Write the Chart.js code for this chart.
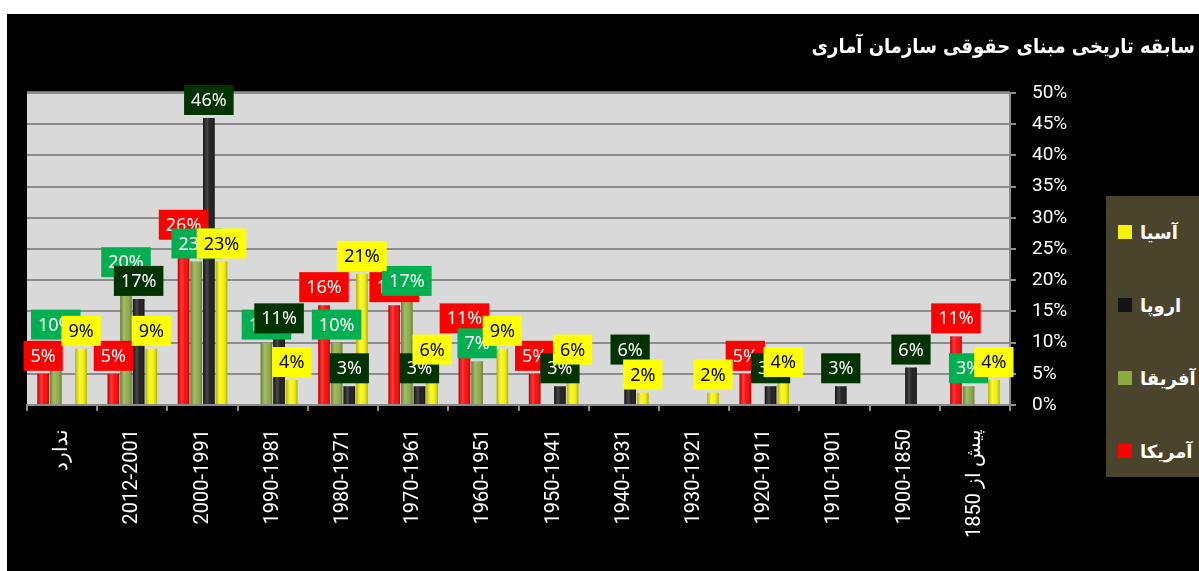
<!DOCTYPE html>
<html lang="fa">
<head>
  <meta charset="UTF-8" />
  <title>سابقه تاریخی مبنای حقوقی سازمان آماری</title>
  <style>
    body {
      margin: 0;
      background: #ffffff;
      font-family: 'DejaVu Sans', sans-serif;
    }

    #wrap {
      position: absolute;
      left: 7px;
      top: 14px;
      width: 1192px;
      height: 557px;
      background: #000000;
    }

    #legend {
      position: absolute;
      left: 1099px;
      top: 182px;
      width: 93px;
      height: 281px;
      background: #4a442c;
      box-sizing: border-box;
      padding-top: 24px;
    }

    .item {
      display: flex;
      align-items: center;
      height: 24px;
      margin-bottom: 49px;
      padding-left: 12px;
      color: #ffffff;
      font-weight: bold;
      font-size: 18px;
    }

    .item span.box {
      width: 14px;
      height: 14px;
      margin-right: 8px;
    }
  </style>
</head>
<body>
  <div id="wrap">
    <canvas id="grafico"></canvas>
    <div id="legend"></div>
  </div>

  <script src="https://cdn.jsdelivr.net/npm/chart.js"></script>
  <script>
    const categorias = ['ندارد', '2012-2001', '2000-1991', '1990-1981', '1980-1971', '1970-1961',
      '1960-1951', '1950-1941', '1940-1931', '1930-1921', '1920-1911', '1910-1901', '1900-1850', 'پیش از 1850'];

    // percent of countries per period (null = no bar)
    const amrika  = [5, 5, 26, null, 16, 16, 11, 5, null, null, 5, null, null, 11];
    const afriqa  = [10, 20, 23, 10, 10, 17, 7, null, null, null, null, null, null, 3];
    const oropa   = [null, 17, 46, 11, 3, 3, null, 3, 6, null, 3, 3, 6, null];
    const asia    = [9, 9, 23, 4, 21, 6, 9, 6, 2, 2, 4, null, null, 4];

    const yTicks = [0, 5, 10, 15, 20, 25, 30, 35, 40, 45, 50];

    const series = [
      { label: 'آمریکا', data: amrika, color: '#ff0000', labelBg: '#ff0000', labelFg: '#ffffff' },
      { label: 'آفریقا', data: afriqa, color: '#8caa42', labelBg: '#00b050', labelFg: '#ffffff' },
      { label: 'اروپا',  data: oropa,  color: '#141414', labelBg: '#003300', labelFg: '#ffffff' },
      { label: 'آسیا',   data: asia,   color: '#f4f400', labelBg: '#ffff00', labelFg: '#000000' }
    ];

    // legend (top to bottom is reversed series order)
    const legend = document.getElementById('legend');
    series.slice().reverse().forEach(s => {
      const div = document.createElement('div');
      div.className = 'item';
      div.innerHTML = `<span class="box" style="background:${s.color}"></span><span>${s.label}</span>`;
      legend.appendChild(div);
    });

    const fundoPlot = {
      id: 'fundoPlot',
      beforeDraw(chart) {
        const { ctx, chartArea: a } = chart;
        ctx.save();
        ctx.fillStyle = '#d9d9d9';
        ctx.fillRect(a.left, a.top, a.right - a.left, a.bottom - a.top);
        ctx.fillStyle = '#6e6e6e';
        ctx.fillRect(a.left, a.top - 2, a.right - a.left, 3);
        ctx.restore();
      }
    };

    // cylinder shading on the bars
    const sombra = {
      id: 'sombra',
      afterDatasetsDraw(chart) {
        const ctx = chart.ctx;
        ctx.save();
        chart.data.datasets.forEach((ds, i) => {
          chart.getDatasetMeta(i).data.forEach((bar, j) => {
            if (ds.data[j] == null) return;
            const { x, y, base, width } = bar.getProps(['x', 'y', 'base', 'width'], true);
            const l = x - width / 2;
            const g = ctx.createLinearGradient(l, 0, l + width, 0);
            g.addColorStop(0, 'rgba(0,0,0,0.28)');
            g.addColorStop(0.35, 'rgba(255,255,255,0.22)');
            g.addColorStop(0.6, 'rgba(255,255,255,0.05)');
            g.addColorStop(1, 'rgba(0,0,0,0.3)');
            ctx.fillStyle = g;
            ctx.fillRect(l, y, width, base - y);
          });
        });
        ctx.restore();
      }
    };

    const rotulos = {
      id: 'rotulos',
      afterDraw(chart) {
        const ctx = chart.ctx;
        ctx.save();
        ctx.font = '18px "Noto Sans"';
        ctx.textAlign = 'center';
        ctx.textBaseline = 'middle';
        series.forEach((s, i) => {
          chart.getDatasetMeta(i).data.forEach((bar, j) => {
            const v = s.data[j];
            if (v == null) return;
            const txt = v + '%';
            const w = ctx.measureText(txt).width + 14;
            const h = 30;
            const bx = bar.x - w / 2;
            const by = bar.y - 3 - h;
            ctx.fillStyle = s.labelBg;
            ctx.fillRect(bx, by, w, h);
            ctx.fillStyle = s.labelFg;
            ctx.fillText(txt, bar.x, by + h / 2 + 1);
          });
        });
        ctx.restore();
      }
    };

    new Chart(document.getElementById('grafico'), {
      type: 'bar',
      data: {
        labels: categorias,
        datasets: series.map(s => ({
          label: s.label,
          data: s.data,
          backgroundColor: s.color,
          categoryPercentage: 0.72,
          barPercentage: 0.92
        }))
      },
      options: {
        responsive: true,
        maintainAspectRatio: false,
        animation: false,
        layout: { padding: { left: 20, right: 4, top: 0, bottom: 0 } },
        plugins: {
          legend: { display: false },
          tooltip: { enabled: false },
          title: {
            display: true,
            text: 'سابقه تاریخی مبنای حقوقی سازمان آماری',
            align: 'end',
            color: '#ffffff',
            font: { family: '"DejaVu Sans Condensed", "DejaVu Sans"', size: 20, weight: 'bold' },
            padding: { top: 22, bottom: 33 }
          }
        },
        scales: {
          x: {
            grid: { drawOnChartArea: false, color: '#8c8c8c', lineWidth: 2, tickLength: 6, offset: true },
            border: { color: '#8c8c8c', width: 2 },
            ticks: {
              color: '#ffffff',
              font: { family: 'Roboto', size: 20 },
              minRotation: 90,
              maxRotation: 90,
              autoSkip: false,
              padding: 18
            },
            afterFit: s => { s.height = 166; }
          },
          y: {
            position: 'right',
            min: 0,
            max: 50,
            afterBuildTicks: s => { s.ticks = yTicks.map(v => ({ value: v })); },
            grid: { color: '#8c8c8c', lineWidth: 2, tickLength: 6 },
            border: { color: '#8c8c8c', width: 2 },
            ticks: {
              color: '#ffffff',
              font: { family: 'Roboto', size: 19 },
              padding: 16,
              callback: v => v + '%'
            },
            afterFit: s => { s.width = 185; }
          }
        }
      },
      plugins: [fundoPlot, sombra, rotulos]
    });
  </script>
</body>
</html>
